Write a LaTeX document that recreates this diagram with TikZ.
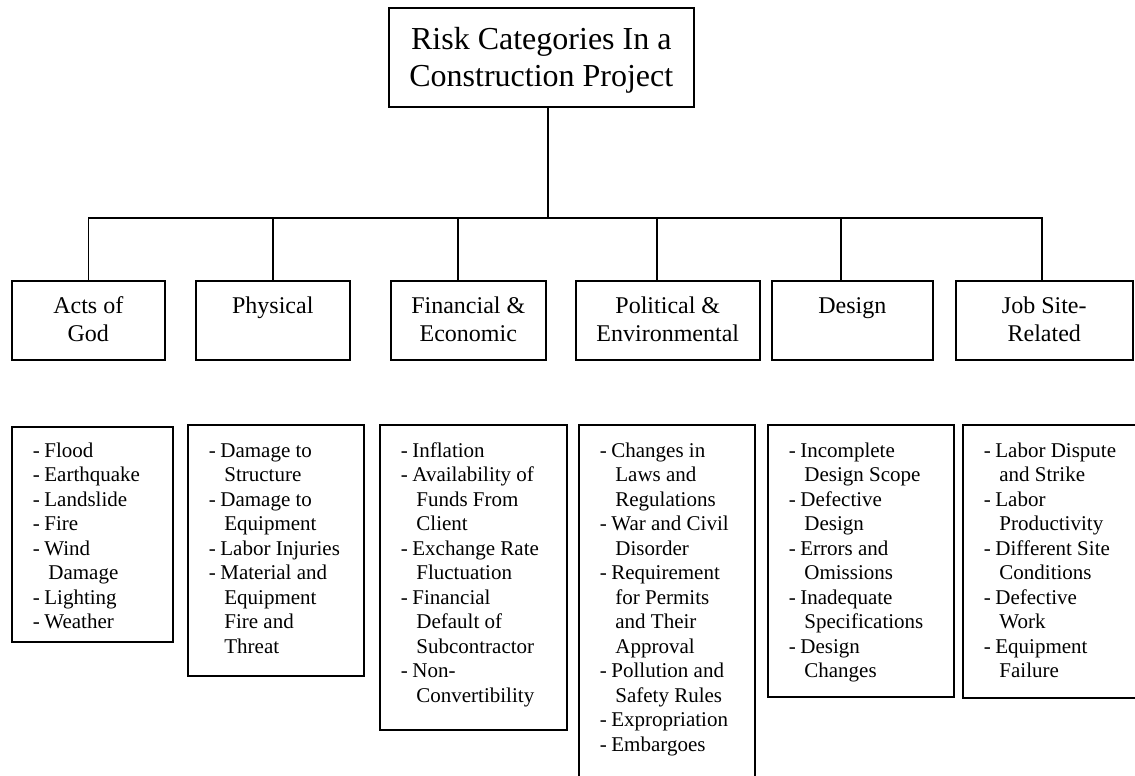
\documentclass[tikz,border=0pt]{standalone}
\usepackage{fontspec}
\setmainfont{Liberation Serif}
\newcommand\itm[1]{\mbox{\makebox[11.6pt][l]{-}#1}}
\newcommand\cnt[1]{\mbox{\hspace*{15.6pt}#1}}
\tikzset{
  ln/.style={line width=1.6pt, line join=miter},
  boxbase/.style={draw, line width=1.6pt, anchor=base west, inner ysep=0pt},
  titlebox/.style={boxbase, inner xsep=0pt, font=\fontsize{32}{36}\selectfont},
  catbox/.style={boxbase, inner xsep=0pt, font=\fontsize{24}{28}\selectfont,
                 text height=32pt, text depth=47pt},
  lstbox/.style={boxbase, inner xsep=21pt, font=\fontsize{21}{24.5}\selectfont},
}
\begin{document}
\begin{tikzpicture}[x=1pt, y=-1pt]
\clip (0,0) rectangle (1135,776);
\fill[white] (0,0) rectangle (1135,776);

% title
\node[titlebox, text height=42pt, text depth=57pt] (root) at (388,50)
  {\parbox[t]{305pt}{\centering Risk Categories In a\\Construction Project}};
\coordinate (bus) at (548,218);

% categories
\node[catbox] (acts) at (11,313) {\parbox[t]{153pt}{\centering Acts of\\God}};
\node[catbox] (phys) at (195,313) {\parbox[t]{154pt}{\centering Physical}};
\node[catbox] (fin)  at (390,313) {\parbox[t]{155pt}{\centering Financial \&\\Economic}};
\node[catbox] (pol)  at (575,313) {\parbox[t]{184pt}{\centering Political \&\\Environmental}};
\node[catbox] (des)  at (771,313) {\parbox[t]{161pt}{\centering Design}};
\node[catbox] (job)  at (955,313) {\parbox[t]{177pt}{\centering Job Site-\\Related}};

% connectors
\draw[ln] (root.south -| bus) -- (bus);
\draw[ln] (acts.north) |- (bus);
\draw[ln] (phys.north) |- (bus);
\draw[ln] ([xshift=-10.5pt]fin.north) |- (bus);
\draw[ln] ([xshift=-11pt]pol.north) |- (bus);
\draw[ln] ([xshift=-11.5pt]des.north) |- (bus);
\draw[ln] ([xshift=-2.5pt]job.north) |- (bus);

% lists
\node[lstbox, text height=30pt, text depth=185pt] (lacts) at (11,457)
  {\parbox[t]{119pt}{\raggedright
   \itm{Flood}\\ \itm{Earthquake}\\ \itm{Landslide}\\ \itm{Fire}\\ \itm{Wind}\\
   \cnt{Damage}\\ \itm{Lighting}\\ \itm{Weather}}};
\node[lstbox, text height=32pt, text depth=219pt] (lphys) at (187,457)
  {\parbox[t]{134pt}{\raggedright
   \itm{Damage to}\\ \cnt{Structure}\\ \itm{Damage to}\\ \cnt{Equipment}\\
   \itm{Labor Injuries}\\ \itm{Material and}\\ \cnt{Equipment}\\ \cnt{Fire and}\\ \cnt{Threat}}};
\node[lstbox, text height=32pt, text depth=273pt] (lfin) at (379,457)
  {\parbox[t]{145pt}{\raggedright
   \itm{Inflation}\\ \itm{Availability of}\\ \cnt{Funds From}\\ \cnt{Client}\\
   \itm{Exchange Rate}\\ \cnt{Fluctuation}\\ \itm{Financial}\\ \cnt{Default of}\\
   \cnt{Subcontractor}\\ \itm{Non-}\\ \cnt{Convertibility}}};
\node[lstbox, text height=32pt, text depth=343pt] (lpol) at (578,457)
  {\parbox[t]{134pt}{\raggedright
   \itm{Changes in}\\ \cnt{Laws and}\\ \cnt{Regulations}\\ \itm{War and Civil}\\
   \cnt{Disorder}\\ \itm{Requirement}\\ \cnt{for Permits}\\ \cnt{and Their}\\
   \cnt{Approval}\\ \itm{Pollution and}\\ \cnt{Safety Rules}\\ \itm{Expropriation}\\
   \itm{Embargoes}}};
\node[lstbox, text height=32pt, text depth=240pt] (ldes) at (767,457)
  {\parbox[t]{144pt}{\raggedright
   \itm{Incomplete}\\ \cnt{Design Scope}\\ \itm{Defective}\\ \cnt{Design}\\
   \itm{Errors and}\\ \cnt{Omissions}\\ \itm{Inadequate}\\ \cnt{Specifications}\\
   \itm{Design}\\ \cnt{Changes}}};
\node[lstbox, text height=32pt, text depth=241pt] (ljob) at (962,457)
  {\parbox[t]{150pt}{\raggedright
   \itm{Labor Dispute}\\ \cnt{and Strike}\\ \itm{Labor}\\ \cnt{Productivity}\\
   \itm{Different Site}\\ \cnt{Conditions}\\ \itm{Defective}\\ \cnt{Work}\\
   \itm{Equipment}\\ \cnt{Failure}}};
\end{tikzpicture}
\end{document}
